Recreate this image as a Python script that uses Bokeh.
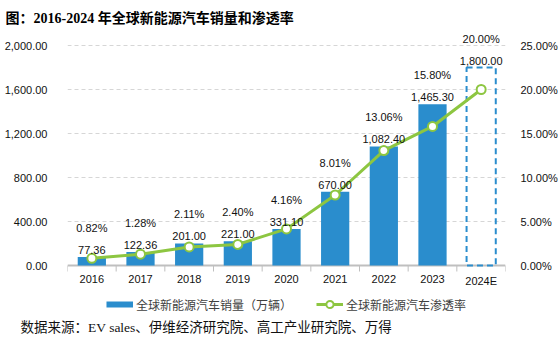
import numpy as np
from bokeh.plotting import figure
from bokeh.models import (Range1d, LinearAxis, FixedTicker, NumeralTickFormatter,
                          PrintfTickFormatter, Legend, LegendItem, Title)
from bokeh.core.properties import value
from bokeh.embed import file_html
from bokeh.resources import INLINE

# ---------------- data ----------------
years = ["2016", "2017", "2018", "2019", "2020", "2021", "2022", "2023", "2024E"]
sales = [77.36, 122.36, 201.00, 221.00, 331.10, 670.00, 1082.40, 1465.30, 1800.00]
penetration = [0.82, 1.28, 2.11, 2.40, 4.16, 8.01, 13.06, 15.80, 20.00]
left_ticks = [0, 400, 800, 1200, 1600, 2000]
right_ticks = [0, 5, 10, 15, 20, 25]
sales_name = "全球新能源汽车销量（万辆）"
pen_name = "全球新能源汽车渗透率"
title_text = "图：2016-2024 年全球新能源汽车销量和渗透率"
source_text = "数据来源：EV sales、伊维经济研究院、高工产业研究院、万得"

# ---------------- styles ----------------
BLUE = "#2A8DCD"
GREEN = "#8DC641"
GRAY = "#BFBFBF"
SANS = "Liberation Sans"
SERIF = "Liberation Serif, Noto Sans CJK SC"

n = len(years)
xs = np.arange(n) + 0.5

# vertical geometry (pixels): frame 30..316, value axis 0 at 265, max tick at 45
FRAME_TOP, FRAME_BOTTOM, ZERO_PX, MAX_PX = 30, 316, 265, 45
ppu = (ZERO_PX - MAX_PX) / left_ticks[-1]          # px per unit
y_lo = -(FRAME_BOTTOM - ZERO_PX) / ppu
y_hi = (ZERO_PX - FRAME_TOP) / ppu
k = left_ticks[-1] / right_ticks[-1]

p = figure(width=560, height=349, output_backend="svg", toolbar_location=None,
           x_range=Range1d(0, n), y_range=Range1d(y_lo, y_hi),
           min_border_left=67, min_border_right=51, min_border_top=FRAME_TOP,
           min_border_bottom=349 - FRAME_BOTTOM, x_axis_location=None)
p.extra_y_ranges = {"pct": Range1d(y_lo / k, y_hi / k)}
p.outline_line_color = None
p.background_fill_color = "white"

# grid
p.xgrid.visible = False
p.ygrid.ticker = FixedTicker(ticks=left_ticks[1:])
p.ygrid.grid_line_color = "#D6D6D6"
p.ygrid.grid_line_dash = "4 3"

# category axis drawn by hand (baseline, boundary ticks, labels)
bounds = np.arange(n + 1)
p.segment(x0=[0], x1=[n], y0=[0], y1=[0], line_color=GRAY, line_width=2)
p.segment(x0=bounds, x1=bounds, y0=np.zeros(n + 1), y1=np.full(n + 1, -6 / ppu),
          line_color=GRAY, line_width=1)
p.text(x=xs, y=np.zeros(n), text=years, text_align="center", text_baseline="top",
       y_offset=9, text_font=value(SANS), text_font_size="11px",
       text_color="#111111")

# bars (actual) and estimate box
bars = p.vbar(x=xs[:-1], top=sales[:-1], width=0.58, fill_color=BLUE, line_color=None)
p.vbar(x=xs[-1:], top=sales[-1:], width=0.6, fill_alpha=0, line_color=BLUE,
       line_width=2, line_dash="6 4")

# penetration line
ln = p.line(xs, penetration, y_range_name="pct", line_color=GREEN, line_width=3)
sc = p.scatter(xs, penetration, y_range_name="pct", size=9, fill_color="white",
               line_color=GREEN, line_width=2)

# data labels
p.text(x=xs, y=sales, text=[f"{v:,.2f}" for v in sales], text_align="center",
       text_baseline="bottom", y_offset=-3, text_font=value(SANS),
       text_font_size="11px", text_color="#111111")
p.text(x=xs, y=sales, text=[f"{v:.2f}%" for v in penetration], text_align="center",
       text_baseline="bottom", y_offset=-23, text_font=value(SANS),
       text_font_size="11px", text_color="#111111")

# left axis
ya = p.yaxis[0]
ya.ticker = FixedTicker(ticks=left_ticks)
ya.formatter = NumeralTickFormatter(format="0,0.00")
ya.axis_line_color = None
ya.major_tick_line_color = None
ya.minor_tick_line_color = None
ya.major_label_standoff = 14
ya.major_label_text_font = SANS
ya.major_label_text_font_size = "11px"
ya.major_label_text_color = "#111111"

# right axis
ra = LinearAxis(y_range_name="pct", ticker=FixedTicker(ticks=right_ticks),
                formatter=PrintfTickFormatter(format="%.2f%%"))
ra.axis_line_color = None
ra.major_tick_line_color = None
ra.minor_tick_line_color = None
ra.major_label_standoff = 9
ra.major_label_text_font = SANS
ra.major_label_text_font_size = "11px"
ra.major_label_text_color = "#111111"
p.add_layout(ra, "right")

# legend (inside the extended frame, below the category labels)
bar_key = p.line(x=[np.nan], y=[np.nan], line_color=BLUE, line_width=6)
legend = Legend(items=[LegendItem(label=sales_name, renderers=[bar_key]),
                       LegendItem(label=pen_name, renderers=[ln, sc])],
                orientation="horizontal", location="bottom_center",
                glyph_width=27, glyph_height=18, label_standoff=3, spacing=24,
                padding=1, margin=3, border_line_color=None,
                background_fill_alpha=0,
                label_text_font="Noto Sans CJK SC", label_text_font_size="12px",
                label_text_color="#404040")
p.add_layout(legend, "center")

# title and source
p.title.text = title_text
p.title.align = "left"
p.title.offset = -62
p.title.text_font = SERIF
p.title.text_font_size = "14px"
p.title.text_font_style = "bold"
p.title.text_color = "#000000"
p.title.standoff = 9

p.add_layout(Title(text=source_text, align="left", offset=-47, text_font=SERIF,
                   text_font_size="13.5px", text_font_style="normal",
                   text_color="#111111", standoff=2), "below")

open("out.html", "w").write(file_html(p, INLINE))
